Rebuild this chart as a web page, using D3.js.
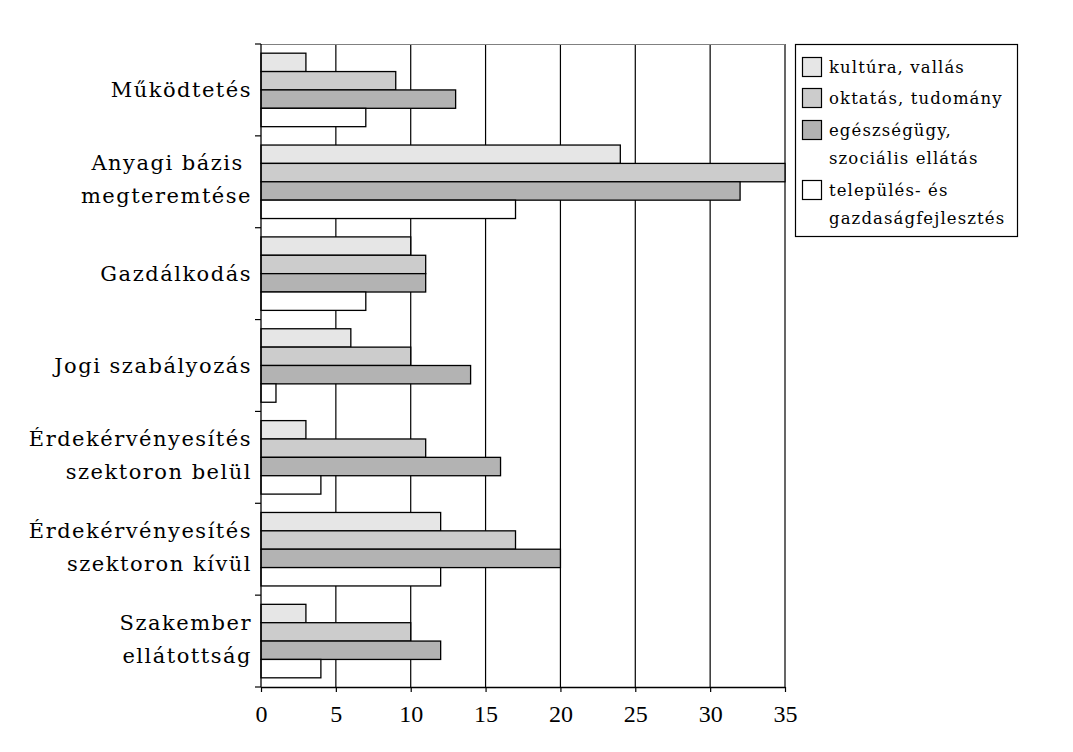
<!DOCTYPE html>
<html><head><meta charset="utf-8">
<script src="https://cdn.jsdelivr.net/npm/d3@7"></script>
<style>body{margin:0;background:#fff}</style>
</head><body>
<svg id="c" width="1073" height="752"></svg>
<script>
const categories = [
  ["Működtetés"],
  ["Anyagi bázis ", "megteremtése"],
  ["Gazdálkodás"],
  ["Jogi szabályozás"],
  ["Érdekérvényesítés", "szektoron belül"],
  ["Érdekérvényesítés", "szektoron kívül"],
  ["Szakember", "ellátottság"]
];
const seriesNames = [
  ["kultúra, vallás"],
  ["oktatás, tudomány"],
  ["egészségügy,", "szociális ellátás"],
  ["település- és", "gazdaságfejlesztés"]
];
const kultura   = [3, 24, 10, 6, 3, 12, 3];
const oktatas   = [9, 35, 11, 10, 11, 17, 10];
const egeszseg  = [13, 32, 11, 14, 16, 20, 12];
const telepules = [7, 17, 7, 1, 4, 12, 4];
const xTicks = [0, 5, 10, 15, 20, 25, 30, 35];
const colors = ["#e6e6e6", "#cccccc", "#b3b3b3", "#ffffff"];

const series = [kultura, oktatas, egeszseg, telepules];
const FONT = "'DejaVu Serif', serif";
const TFONT = "'Liberation Serif', serif";
const svg = d3.select("#c");
const L = 261, R = 785, T = 44, B = 687;

const x = d3.scaleLinear().domain([0, 35]).range([L, R]);
const catIdx = categories.map((d, i) => i);
const y0 = d3.scaleBand().domain(catIdx).range([T, B]).paddingInner(0.2).paddingOuter(0.1);
const y1 = d3.scaleBand().domain([0, 1, 2, 3]).range([0, y0.bandwidth()]);

// gridlines
svg.append("g").selectAll("line").data(xTicks.filter(t => t > 0)).join("line")
  .attr("x1", d => x(d)).attr("x2", d => x(d)).attr("y1", T).attr("y2", B)
  .attr("stroke", "#000").attr("stroke-width", 1.2);
// top border
svg.append("line").attr("x1", L).attr("x2", R).attr("y1", T + 0.5).attr("y2", T + 0.5)
  .attr("stroke", "#808080").attr("stroke-width", 1.2);

// bars
const g = svg.append("g");
categories.forEach((c, ci) => {
  series.forEach((s, si) => {
    g.append("rect")
      .attr("x", x(0)).attr("y", y0(ci) + y1(si))
      .attr("width", x(s[ci]) - x(0)).attr("height", y1.bandwidth())
      .attr("fill", colors[si]).attr("stroke", "#000").attr("stroke-width", 1.3);
  });
});

// x axis
const xAxis = d3.axisBottom(x).tickValues(xTicks).tickSize(5).tickPadding(0).tickSizeOuter(0);
const xa = svg.append("g").attr("transform", `translate(0,${B})`).call(xAxis);
xa.select(".domain").attr("stroke", "#000").attr("stroke-width", 1.3);
xa.selectAll(".tick line").attr("stroke-width", 1.2);
xa.selectAll("text").attr("font-family", TFONT).attr("font-size", 24).attr("fill", "#000")
  .attr("dy", null).attr("y", 35);

// y axis ticks at band boundaries
const boundaries = d3.range(categories.length + 1).map(i => T + i * y0.step());
svg.append("line").attr("x1", L).attr("x2", L).attr("y1", T).attr("y2", B)
  .attr("stroke", "#000").attr("stroke-width", 1.3);
svg.append("g").selectAll("line").data(boundaries).join("line")
  .attr("x1", L - 6).attr("x2", L).attr("y1", d => d).attr("y2", d => d)
  .attr("stroke", "#000").attr("stroke-width", 1.2);

// category labels
const lh = 33;
categories.forEach((lines, ci) => {
  const cy = y0(ci) + y0.bandwidth() / 2;
  const off = lines.length === 1 ? 7 : 5;
  const t = svg.append("text").attr("text-anchor", "end")
    .attr("font-family", FONT).attr("font-size", 21).attr("letter-spacing", 1.5)
    .attr("fill", "#000").style("white-space", "pre");
  lines.forEach((ln, li) => {
    t.append("tspan").attr("x", 252)
      .attr("y", cy + (li - (lines.length - 1) / 2) * lh + off).text(ln);
  });
});

// legend
const lg = svg.append("g");
lg.append("rect").attr("x", 795.5).attr("y", 44.5).attr("width", 222).attr("height", 192)
  .attr("fill", "#fff").attr("stroke", "#000").attr("stroke-width", 1.2);
const swY = [57, 88, 120, 180];
seriesNames.forEach((lines, si) => {
  lg.append("rect").attr("x", 802.5).attr("y", swY[si] + 0.5).attr("width", 19).attr("height", 19)
    .attr("fill", colors[si]).attr("stroke", "#000").attr("stroke-width", 1.2);
  const t = lg.append("text").attr("font-family", FONT).attr("font-size", 16.5)
    .attr("letter-spacing", 1.1).attr("fill", "#000");
  lines.forEach((ln, li) => {
    t.append("tspan").attr("x", 829).attr("y", swY[si] + 16 + li * 28).text(ln);
  });
});
</script>
</body></html>
